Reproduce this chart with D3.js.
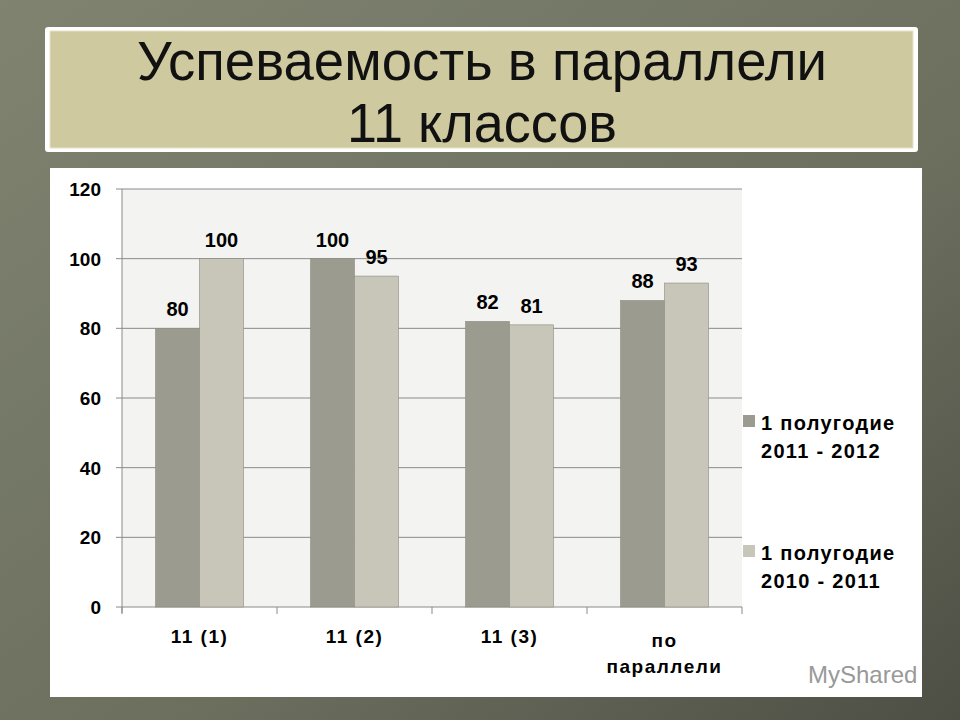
<!DOCTYPE html><html><head><meta charset="utf-8">
<script src="https://cdn.jsdelivr.net/npm/d3@7"></script>
<style>body{margin:0}</style></head><body>
<svg id="c" width="960" height="720"></svg>
<script>
const categories = [["11 (1)"],["11 (2)"],["11 (3)"],["по","параллели"]];
const series1 = [80,100,82,88];
const series2 = [100,95,81,93];
const seriesNames = [["1 полугодие","2011 - 2012"],["1 полугодие","2010 - 2011"]];
const ticks = [0,20,40,60,80,100,120];
const colors = ["#9c9b8f","#c7c6b8"];

const svg = d3.select("#c");
const defs = svg.append("defs");
const g = defs.append("linearGradient").attr("id","bg").attr("x1",0).attr("y1",0).attr("x2",1).attr("y2",1);
g.append("stop").attr("offset","0").attr("stop-color","#7f8370");
g.append("stop").attr("offset","0.6").attr("stop-color","#6c6f5e");
g.append("stop").attr("offset","1").attr("stop-color","#4d4f45");
svg.append("rect").attr("width",960).attr("height",720).attr("fill","url(#bg)");
svg.append("rect").attr("x",45).attr("y",27).attr("width",873).attr("height",125).attr("fill","#fff").attr("rx",3);
svg.append("rect").attr("x",50).attr("y",31).attr("width",863).attr("height",117).attr("fill","#cfc9a0").attr("stroke","#e6e2c8");
const tf = "'Liberation Sans',Arial";
svg.append("text").attr("x",137).attr("y",80).attr("font-family",tf).attr("font-size",56).attr("fill","#111")
  .attr("textLength",690).attr("lengthAdjust","spacingAndGlyphs").text("Успеваемость в параллели");
svg.append("text").attr("x",347).attr("y",142).attr("font-family",tf).attr("font-size",56).attr("fill","#111")
  .attr("textLength",270).attr("lengthAdjust","spacingAndGlyphs").text("11 классов");
svg.append("rect").attr("x",50).attr("y",168).attr("width",872).attr("height",529).attr("fill","#fff");
const x0=122,x1=742,y0=607,y1=189;
svg.append("rect").attr("x",x0).attr("y",y1).attr("width",x1-x0).attr("height",y0-y1).attr("fill","#f3f3f1");
const x = d3.scaleBand().domain(d3.range(categories.length)).range([x0,x1]);
const y = d3.scaleLinear().domain([0,120]).range([y0,y1]);
const font = "'Liberation Sans',Arial";
ticks.forEach(t=>{
  svg.append("line").attr("x1",x0-6).attr("x2",x1).attr("y1",y(t)).attr("y2",y(t)).attr("stroke","#8a8a8a");
  svg.append("text").attr("x",101).attr("y",y(t)+7).attr("text-anchor","end").attr("font-family",font).attr("font-weight","bold").attr("font-size",19).text(t);
});
svg.append("line").attr("x1",x0).attr("x2",x0).attr("y1",y1).attr("y2",y0+6).attr("stroke","#8a8a8a");
d3.range(categories.length+1).forEach(i=>{
  const xx = i<categories.length? x(i):x1;
  svg.append("line").attr("x1",xx).attr("x2",xx).attr("y1",y0).attr("y2",y0+7).attr("stroke","#8a8a8a");
});
const bw=44;
[series1,series2].forEach((s,k)=>{
  s.forEach((v,i)=>{
    const bx = x(i)+x.bandwidth()/2 - bw + k*bw;
    svg.append("rect").attr("x",bx).attr("y",y(v)).attr("width",bw).attr("height",y0-y(v)).attr("fill",colors[k]).attr("stroke","#8c8b80").attr("stroke-width",0.6);
    svg.append("text").attr("x",bx+bw/2).attr("y",y(v)-12).attr("text-anchor","middle").attr("font-family",font).attr("font-weight","bold").attr("font-size",20).text(v);
  });
});
categories.forEach((c,i)=>{
  c.forEach((l,j)=>svg.append("text").attr("x",x(i)+x.bandwidth()/2).attr("y",643+j*26+(c.length>1?4:0)).attr("text-anchor","middle").attr("font-family",font).attr("font-weight","bold").attr("font-size",19).attr("letter-spacing",1.5).text(l));
});
seriesNames.forEach((n,k)=>{
  const ly = 430 + k*130;
  svg.append("rect").attr("x",743).attr("y",ly-15).attr("width",12).attr("height",12).attr("fill",colors[k]);
  n.forEach((l,j)=>svg.append("text").attr("x",761).attr("y",ly+j*28).attr("font-family",font).attr("font-weight","bold").attr("font-size",20).attr("letter-spacing",1.3).text(l));
});
svg.append("text").attr("x",808).attr("y",683).attr("font-family",font).attr("font-size",24).attr("fill","#999").text("MyShared");
</script></body></html>
